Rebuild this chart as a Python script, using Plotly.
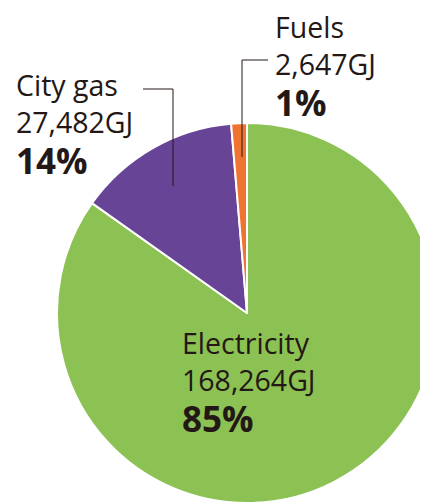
import plotly.graph_objects as go

labels = ["Electricity", "City gas", "Fuels"]
values = [168264, 27482, 2647]
value_text = ["168,264GJ", "27,482GJ", "2,647GJ"]
pct_text = ["85%", "14%", "1%"]
colors = ["#8cc153", "#674496", "#ef7431"]

W, H = 440, 506
OFF = 8  # page body margin
CX, CY, R = 247, 313, 190
FONT = "Open Sans"
INK = "#231815"


def px(x):
    return (x - OFF) / W


def py(y):
    return 1 - (y - OFF) / H


fig = go.Figure(go.Pie(
    labels=labels, values=values, sort=False, direction="clockwise", rotation=0,
    marker=dict(colors=colors, line=dict(color="white", width=2)),
    textinfo="none", hoverinfo="label+value+percent", showlegend=False,
    domain=dict(x=[px(CX - R), px(CX + R)], y=[py(CY + R), py(CY - R)]),
))

# label blocks: (left x, middle y of name/value lines, middle y of percent line)
blocks = [(181, 361, 418), (15, 103, 160.5), (274, 45, 102.5)]
ann = []
for i, (x0, ym, yp) in enumerate(blocks):
    ann.append(dict(
        x=px(x0), y=py(ym), xref="paper", yref="paper",
        xanchor="left", yanchor="middle", align="left", showarrow=False,
        text=f"{labels[i]}<br>{value_text[i]}", borderpad=0,
        font=dict(family=FONT, size=28.5, color=INK, weight=500),
    ))
    ann.append(dict(
        x=px(x0), y=py(yp), xref="paper", yref="paper",
        xanchor="left", yanchor="middle", align="left", showarrow=False,
        text=f"<b>{pct_text[i]}</b>", borderpad=0,
        font=dict(family=FONT, size=35, color=INK),
    ))

shapes = [
    dict(type="path", xref="paper", yref="paper",
         path=f"M {px(143)} {py(89)} L {px(173)} {py(89)} L {px(173)} {py(186)}",
         line=dict(color=INK, width=1)),
    dict(type="path", xref="paper", yref="paper",
         path=f"M {px(268)} {py(60)} L {px(242)} {py(60)} L {px(242)} {py(157)}",
         line=dict(color=INK, width=1)),
]

fig.update_layout(
    width=W, height=H, margin=dict(l=0, r=0, t=0, b=0),
    paper_bgcolor="white", plot_bgcolor="white",
    annotations=ann, shapes=shapes,
)
fig.write_html("out.html")
